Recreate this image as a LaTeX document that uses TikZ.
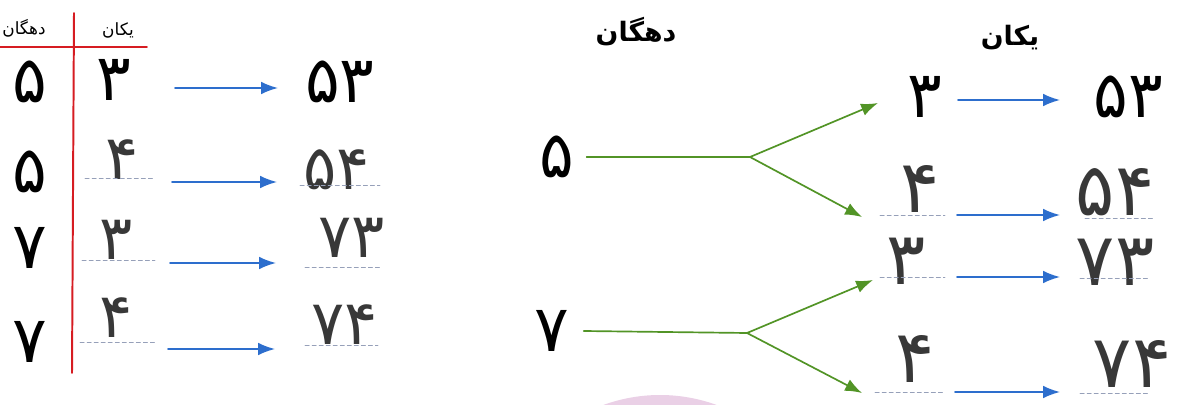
\documentclass[tikz,border=0pt]{standalone}
\usepackage{fontspec}
\usetikzlibrary{arrows.meta}
\newfontfamily\persfont[Script=Arabic]{DejaVu Sans}
\TeXXeTstate=1
\definecolor{tableRed}{RGB}{214,28,34}
\definecolor{arrowBlue}{RGB}{45,110,205}
\definecolor{branchGreen}{RGB}{82,148,38}
\definecolor{guideGray}{RGB}{150,160,185}
\definecolor{stampPink}{RGB}{234,208,230}
\begin{document}
\begin{tikzpicture}[x=0.025cm,y=-0.025cm,line cap=round,line join=round,
    >={Latex[length=12pt,width=9pt]},
    printed/.style={inner sep=0pt,font=\persfont\fontsize{46}{48}\selectfont},
    handwritten/.style={inner sep=0pt,text=black!78,font=\persfont\fontsize{44}{46}\selectfont},
    bighand/.style={inner sep=0pt,text=black!78,text height=0.62em,text depth=0pt,font=\persfont\fontsize{52}{54}\selectfont},
    header/.style={inner sep=0pt,font=\persfont\fontsize{12}{13}\selectfont},
    bigheader/.style={inner sep=0pt,font=\persfont\bfseries\fontsize{19}{20}\selectfont},
    bluearrow/.style={->,line width=1.2pt,draw=arrowBlue,fill=arrowBlue},
    greenline/.style={line width=1.2pt,draw=branchGreen,fill=branchGreen},
    guide/.style={densely dashed,line width=0.4pt,draw=guideGray}]
  \useasboundingbox (0,0) rectangle (1194,405);
  \begin{scope}
    \clip (0,0) rectangle (1194,405);
    \fill[stampPink] (660,560) circle (165);
  \end{scope}

  % left table
  \node[header] (headT) at (24,28) {\beginR دهگان\endR};
  \node[header] (headU) at (118,30) {\beginR یکان\endR};
  \draw[line width=1.4pt,draw=tableRed] (0,47) -- (147,47);
  \draw[line width=1.4pt,draw=tableRed] (74,13) -- (72,373);
  \node[printed] (t1) at (30,82) {۵};
  \node[printed] (t2) at (30,172) {۵};
  \node[printed] (t3) at (30,248) {۷};
  \node[printed] (t4) at (30,342) {۷};
  \node[printed] (u1) at (114,80) {۳};
  \node[handwritten] (u2) at (122,160) {۴};
  \node[handwritten] (u3) at (116,240) {۳};
  \node[handwritten] (u4) at (116,318) {۴};
  \draw[guide] (85,178) -- (155,178);
  \draw[guide] (82,260) -- (155,260);
  \draw[guide] (80,342) -- (155,342);
  \foreach \i/\xs/\xe/\y in {1/175/278/88,2/172/277/182,3/170/276/263,4/168/275/349}{
    \coordinate (la\i) at (\xs,\y);
    \coordinate (lb\i) at (\xe,\y);
    \draw[bluearrow] (la\i) -- (lb\i);
  }
  \node[printed] (n1) at (340,82) {۵۳};
  \node[handwritten] (n2) at (337,170) {۵۴};
  \node[handwritten] (n3) at (352,238) {۷۳};
  \node[handwritten] (n4) at (345,325) {۷۴};
  \draw[guide] (300,185) -- (380,185);
  \draw[guide] (305,267) -- (380,267);
  \draw[guide] (305,345) -- (378,345);

  % right part
  \node[bigheader] (headT2) at (636,32) {\beginR دهگان\endR};
  \node[bigheader] (headU2) at (1010,38) {\beginR یکان\endR};
  \node[printed] (T5) at (557,157) {۵};
  \node[printed] (T7) at (552,331) {۷};
  \coordinate (fork1) at (750,157);
  \coordinate (fork2) at (747,333);
  \coordinate (g1) at (878,103);
  \coordinate (g2) at (862,217);
  \coordinate (g3) at (873,280);
  \coordinate (g4) at (862,393);
  \draw[greenline] (T5.east) ++(12,0) -- (fork1);
  \draw[greenline] (T7.east) ++(14,0) -- (fork2);
  \draw[greenline,->] (fork1) -- (g1);
  \draw[greenline,->] (fork1) -- (g2);
  \draw[greenline,->] (fork2) -- (g3);
  \draw[greenline,->] (fork2) -- (g4);
  \node[printed] (U1) at (925,97) {۳};
  \node[bighand] (U2) at (920,208) {۴};
  \node[bighand] (U3) at (906,280) {۳};
  \node[bighand] (U4) at (915,378) {۴};
  \draw[guide] (880,215) -- (945,215);
  \draw[guide] (880,277) -- (945,277);
  \draw[guide] (875,392) -- (945,392);
  \foreach \i/\xs/\y in {1/958/100,2/957/215,3/957/277,4/955/392}{
    \coordinate (ra\i) at (\xs,\y);
    \coordinate (rb\i) at (1060,\y);
    \draw[bluearrow] (ra\i) -- (rb\i);
  }
  \node[printed] (R1) at (1128,97) {۵۳};
  \node[bighand] (R2) at (1115,211) {۵۴};
  \node[bighand] (R3) at (1115,281) {۷۳};
  \node[bighand] (R4) at (1132,383) {۷۴};
  \draw[guide] (1085,218) -- (1155,218);
  \draw[guide] (1080,278) -- (1150,278);
  \draw[guide] (1080,393) -- (1150,393);
\end{tikzpicture}
\end{document}
